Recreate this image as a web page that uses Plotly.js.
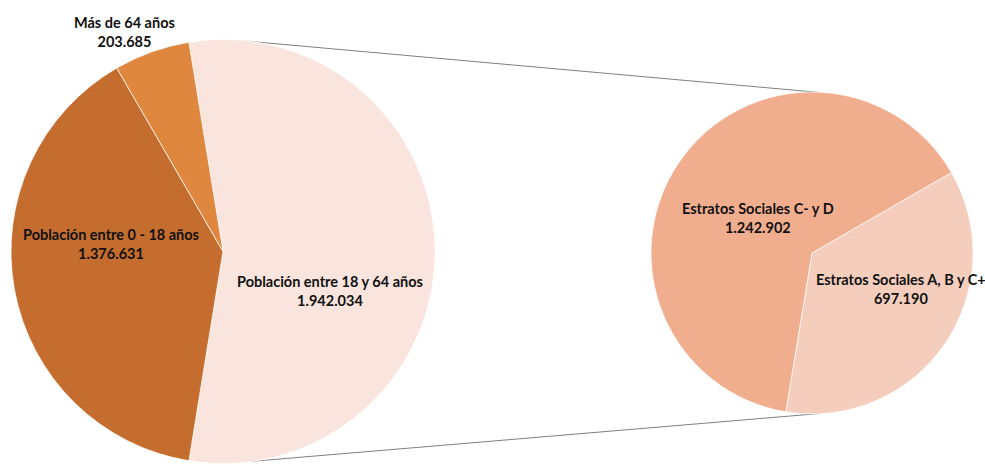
<!DOCTYPE html>
<html>
<head>
<meta charset="utf-8">
<script src="https://cdn.plot.ly/plotly-3.0.1.min.js"></script>
<style>html,body{margin:0;padding:0;background:#fff;}#chart{width:985px;height:464px;}</style>
</head>
<body>
<div id="chart"></div>
<script>
// ---- data ----
const mainLabels = ["Población entre 18 y 64 años", "Población entre 0 - 18 años", "Más de 64 años"];
const mainValues = [1942034, 1376631, 203685];
const mainColors = ["#F9E5DD", "#C46D2E", "#E0873F"];

const subLabels = ["Estratos Sociales A, B y C+", "Estratos Sociales C- y D"];
const subValues = [697190, 1242902];
const subColors = ["#F5CDBC", "#F1AE8F"];

// ---- helpers ----
const W = 985, H = 464;
const px = x => x / W;
const py = y => 1 - y / H;
function fmt(n) { return String(n).replace(/\B(?=(\d{3})+(?!\d))/g, "."); }

const mainTotal = mainValues.reduce((a, b) => a + b, 0);
const otherDeg = mainValues[0] / mainTotal * 360;
const mainRotation = -(otherDeg - 180) / 2;

const traces = [
  {
    type: "pie", values: mainValues, labels: mainLabels, sort: false,
    direction: "clockwise", rotation: mainRotation,
    marker: { colors: mainColors, line: { color: "rgba(255,255,255,0.7)", width: 1 } },
    textinfo: "none", hoverinfo: "label+value", showlegend: false,
    domain: { x: [px(11), px(435)], y: [py(463.5), py(39.5)] }
  },
  {
    type: "pie", values: subValues, labels: subLabels, sort: false,
    direction: "clockwise", rotation: 60,
    marker: { colors: subColors, line: { color: "rgba(255,255,255,0.7)", width: 1 } },
    textinfo: "none", hoverinfo: "label+value", showlegend: false,
    domain: { x: [px(651), px(973)], y: [py(414), py(92)] }
  }
];

const labelPos = [[330, 291], [111, 244], [124, 32]];
const subLabelPos = [[901, 289], [758, 218]];
const annFont = { family: "Lato, 'Open Sans', sans-serif", size: 14.5, color: "#111111", weight: "bold" };
const annotations = [];
mainLabels.forEach((l, i) => annotations.push({
  xref: "paper", yref: "paper", x: px(labelPos[i][0]), y: py(labelPos[i][1]),
  xanchor: "center", yanchor: "middle", showarrow: false, align: "center",
  text: l + "<br>" + fmt(mainValues[i]), font: annFont
}));
subLabels.forEach((l, i) => annotations.push({
  xref: "paper", yref: "paper", x: px(subLabelPos[i][0]), y: py(subLabelPos[i][1]),
  xanchor: "center", yanchor: "middle", showarrow: false, align: "center",
  text: l + "<br>" + fmt(subValues[i]), font: annFont
}));

const lineStyle = { color: "#7f7f7f", width: 1 };
const shapes = [
  { type: "line", xref: "paper", yref: "paper", x0: px(245), y0: py(41), x1: px(820), y1: py(92.5), line: lineStyle, layer: "below" },
  { type: "line", xref: "paper", yref: "paper", x0: px(250), y0: py(461.5), x1: px(820), y1: py(413.5), line: lineStyle, layer: "below" }
];

const layout = {
  width: W, height: H,
  margin: { l: 0, r: 0, t: 0, b: 0 },
  paper_bgcolor: "#ffffff", plot_bgcolor: "#ffffff",
  showlegend: false, annotations, shapes
};
Plotly.newPlot("chart", traces, layout, { displayModeBar: false, staticPlot: true });
</script>
</body>
</html>
